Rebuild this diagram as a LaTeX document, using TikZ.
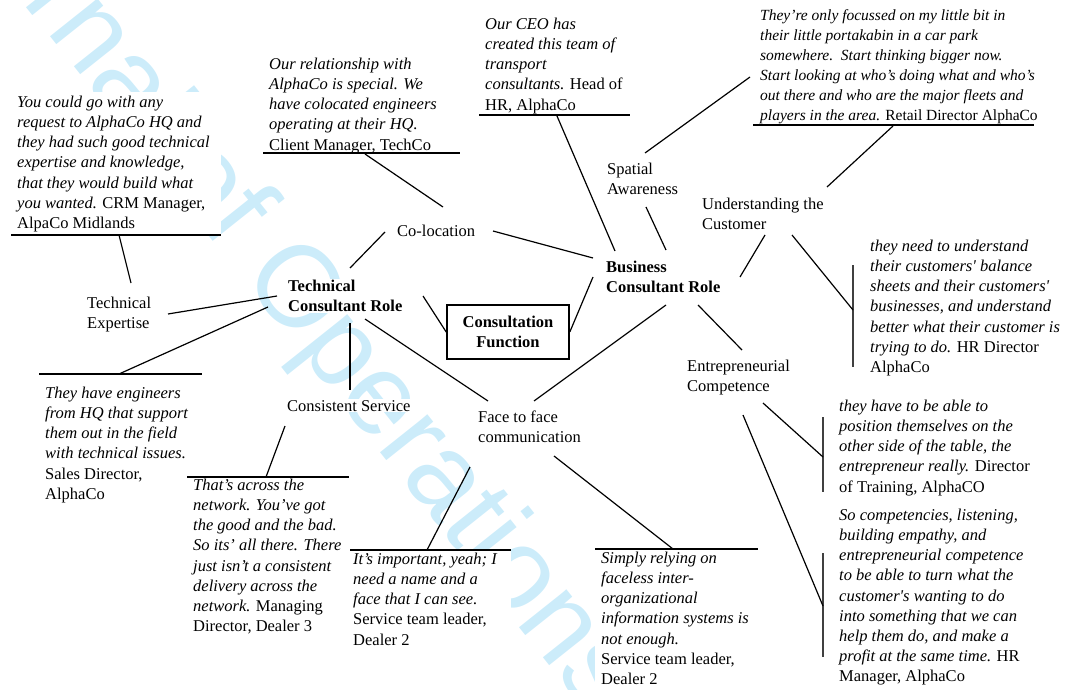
\documentclass[tikz,border=0pt]{standalone}
\usepackage{fontspec}
\setmainfont{Liberation Serif}
\newfontfamily\wmfont{Liberation Sans}
\definecolor{wmcol}{RGB}{204,236,250}
\newcommand\qfont{\fontsize{16.5bp}{20.1bp}\selectfont}
\newcommand\qfontsmall{\fontsize{15.5bp}{20bp}\selectfont}
\tikzset{
  conn/.style={line width=1.2bp, black},
  uline/.style={line width=1.8bp, black},
  vbar/.style={line width=2bp, black!75},
  quote/.style={anchor=north west, align=left, inner sep=0pt, font=\qfont},
  concept/.style={anchor=north west, align=left, inner sep=1bp, fill=white, font=\qfont},
  bconcept/.style={concept, font=\qfont\bfseries},
  mask/.style={fill=white},
  wm/.style={anchor=base west, rotate=-51.5, inner sep=0pt, text=wmcol,
             font=\wmfont\fontsize{115bp}{115bp}\selectfont},
}
\begin{document}
\begin{tikzpicture}[x=1bp, y=-1bp]
\useasboundingbox (0,0) rectangle (1065,690);
% watermark
\begin{scope}
\clip (0,0) rectangle (1065,690);
\node[wm] (wm) at (240,276) {\llap{Journal of }Operations\rlap{ \& Production Management}};
\end{scope}
% masks behind quotes
\fill[mask] (11,92) rectangle (221,235);
\fill[mask] (263,54) rectangle (460,153);
\fill[mask] (479,14) rectangle (630,115);
\fill[mask] (753,4) rectangle (1034,125);
\fill[mask] (853,238) rectangle (1050,372);
\fill[mask] (39,374) rectangle (202,505);
\fill[mask] (187,477) rectangle (349,635);
\fill[mask] (350,550) rectangle (511,650);
\fill[mask] (595,549) rectangle (758,690);
\fill[mask] (823,398) rectangle (1040,495);
\fill[mask] (823,506) rectangle (1040,686);

% quotes
\node[quote] (qA) at (17,96) {\textit{You could go with any}\\
\textit{request to AlphaCo HQ and}\\
\textit{they had such good technical}\\
\textit{expertise and knowledge,}\\
\textit{that they would build what}\\
\textit{you wanted.} CRM Manager,\\
AlpaCo Midlands};
\node[quote] (qB) at (269,58) {\textit{Our relationship with}\\
\textit{AlphaCo is special. We}\\
\textit{have colocated engineers}\\
\textit{operating at their HQ.}\\
Client Manager, TechCo};
\node[quote] (qC) at (485,18) {\textit{Our CEO has}\\
\textit{created this team of}\\
\textit{transport}\\
\textit{consultants.} Head of\\
HR, AlphaCo};
\node[quote, font=\qfontsmall] (qD) at (760,9) {\textit{They’re only focussed on my little bit in}\\
\textit{their little portakabin in a car park}\\
\textit{somewhere.\ \ Start thinking bigger now.}\\
\textit{Start looking at who’s doing what and who’s}\\
\textit{out there and who are the major fleets and}\\
\textit{players in the area.} Retail Director AlphaCo};
\node[quote] (qE) at (870,240) {\textit{they need to understand}\\
\textit{their customers\textquotesingle\ balance}\\
\textit{sheets and their customers\textquotesingle}\\
\textit{businesses, and understand}\\
\textit{better what their customer is}\\
\textit{trying to do.} HR Director\\
AlphaCo};
\node[quote] (qF) at (45,387) {\textit{They have engineers}\\
\textit{from HQ that support}\\
\textit{them out in the field}\\
\textit{with technical issues.}\\
Sales Director,\\
AlphaCo};
\node[quote] (qG) at (193,479) {\textit{That’s across the}\\
\textit{network. You’ve got}\\
\textit{the good and the bad.}\\
\textit{So its’ all there. There}\\
\textit{just isn’t a consistent}\\
\textit{delivery across the}\\
\textit{network.} Managing\\
Director, Dealer 3};
\node[quote] (qH) at (353,553) {\textit{It’s important, yeah; I}\\
\textit{need a name and a}\\
\textit{face that I can see.}\\
Service team leader,\\
Dealer 2};
\node[quote] (qI) at (601,552) {\textit{Simply relying on}\\
\textit{faceless inter-}\\
\textit{organizational}\\
\textit{information systems is}\\
\textit{not enough.}\\
Service team leader,\\
Dealer 2};
\node[quote] (qJ) at (839,400) {\textit{they have to be able to}\\
\textit{position themselves on the}\\
\textit{other side of the table, the}\\
\textit{entrepreneur really.} Director\\
of Training, AlphaCO};
\node[quote] (qK) at (839,509) {\textit{So competencies, listening,}\\
\textit{building empathy, and}\\
\textit{entrepreneurial competence}\\
\textit{to be able to turn what the}\\
\textit{customer\textquotesingle s wanting to do}\\
\textit{into something that we can}\\
\textit{help them do, and make a}\\
\textit{profit at the same time.} HR\\
Manager, AlphaCo};

% underlines and bars
\coordinate (uA1) at (11,235);  \coordinate (uA2) at (221,235);
\coordinate (uB1) at (263,153); \coordinate (uB2) at (460,153);
\coordinate (uC1) at (479,115); \coordinate (uC2) at (630,115);
\coordinate (uD1) at (753,125); \coordinate (uD2) at (1034,125);
\coordinate (uF1) at (39,374);  \coordinate (uF2) at (202,374);
\coordinate (uG1) at (187,477); \coordinate (uG2) at (349,477);
\coordinate (uH1) at (350,550); \coordinate (uH2) at (511,550);
\coordinate (uI1) at (595,549); \coordinate (uI2) at (758,549);
\coordinate (bE1) at (853,265); \coordinate (bE2) at (853,367);
\coordinate (bJ1) at (823,417); \coordinate (bJ2) at (823,492);
\coordinate (bK1) at (823,553); \coordinate (bK2) at (823,657);
\foreach \a/\b in {uA1/uA2,uB1/uB2,uC1/uC2,uD1/uD2,uF1/uF2,uG1/uG2,uH1/uH2,uI1/uI2}
  \draw[uline] (\a) -- (\b);
\foreach \a/\b in {bE1/bE2,bJ1/bJ2,bK1/bK2}
  \draw[vbar] (\a) -- (\b);

% concept nodes
\node[concept] (TE) at (86,296) {Technical\\Expertise};
\node[concept] (CoL) at (396,224) {Co-location};
\node[bconcept] (TCR) at (287,279) {Technical\\Consultant Role};
\node[bconcept] (BCR) at (605,260) {Business\\Consultant Role};
\node[concept] (SA) at (606,162) {Spatial\\Awareness};
\node[concept] (UC) at (701,197) {Understanding the\\Customer};
\node[concept] (EC) at (686,359) {Entrepreneurial\\Competence};
\node[concept] (FF) at (477,410) {Face to face\\communication};
\node[concept] (CS) at (286,399) {Consistent Service};
\node[draw, line width=1.6bp, fill=white, minimum width=122bp, minimum height=54bp,
      align=center, font=\qfont\bfseries, inner sep=2bp] (CF) at (508,332) {Consultation\\Function};

% connector end points
\coordinate (c1a) at (119,235); \coordinate (c1b) at (131,283);
\coordinate (c2a) at (168,314); \coordinate (c2b) at (277,296);
\coordinate (c3a) at (268,307); \coordinate (c3b) at (119,374);
\coordinate (c4a) at (350,268); \coordinate (c4b) at (385,232);
\coordinate (c5a) at (365,154); \coordinate (c5b) at (443,207);
\coordinate (c6a) at (493,231); \coordinate (c6b) at (593,258);
\coordinate (c7a) at (557,116); \coordinate (c7b) at (615,251);
\coordinate (c8a) at (646,207); \coordinate (c8b) at (666,250);
\coordinate (c9a) at (645,153); \coordinate (c9b) at (750,77);
\coordinate (c10a) at (893,126); \coordinate (c10b) at (827,187);
\coordinate (c11a) at (765,235); \coordinate (c11b) at (740,277);
\coordinate (c12a) at (792,235); \coordinate (c12b) at (853,310);
\coordinate (c13a) at (593,277); \coordinate (c13b) at (CF.east);
\coordinate (c14a) at (423,296); \coordinate (c14b) at (CF.west);
\coordinate (c15a) at (666,305); \coordinate (c15b) at (534,401);
\coordinate (c16a) at (698,305); \coordinate (c16b) at (742,350);
\coordinate (c17a) at (350,323); \coordinate (c17b) at (350,390);
\coordinate (c18a) at (365,319); \coordinate (c18b) at (488,401);
\coordinate (c19a) at (285,426); \coordinate (c19b) at (266,477);
\coordinate (c20a) at (470,467); \coordinate (c20b) at (427,550);
\coordinate (c21a) at (554,456); \coordinate (c21b) at (673,549);
\coordinate (c22a) at (763,403); \coordinate (c22b) at (823,457);
\coordinate (c23a) at (743,415); \coordinate (c23b) at (823,606);
\foreach \i in {1,...,23}
  \draw[conn] (c\i a) -- (c\i b);
\end{tikzpicture}
\end{document}
